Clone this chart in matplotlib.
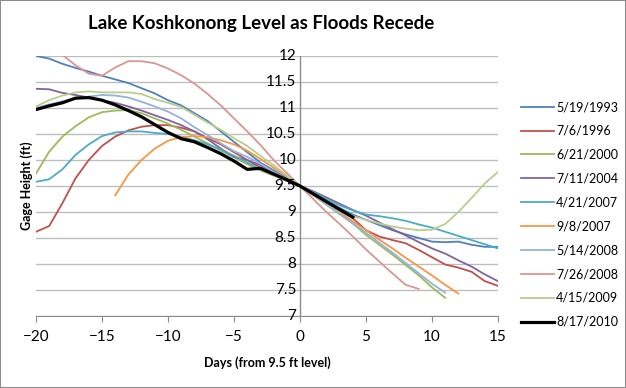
import numpy as np
import matplotlib
matplotlib.use("Agg")
import matplotlib.pyplot as plt
from matplotlib.patches import Rectangle

plt.rcParams['font.family'] = ['Lato', 'DejaVu Sans']

# --- data (days from the 9.5 ft level, gage height in ft) ---
labels = ['5/19/1993', '7/6/1996', '6/21/2000', '7/11/2004', '4/21/2007',
          '9/8/2007', '5/14/2008', '7/26/2008', '4/15/2009', '8/17/2010']

h1993 = [12.0, 11.95, 11.85, 11.77, 11.7, 11.62, 11.55, 11.48, 11.38, 11.28,
         11.15, 11.05, 10.9, 10.75, 10.55, 10.35, 10.15, 9.95, 9.8, 9.65,
         9.5, 9.37, 9.22, 9.08, 8.95, 8.85, 8.75, 8.65, 8.57, 8.5,
         8.43, 8.42, 8.43, 8.37, 8.33, 8.33]
h1996 = [8.62, 8.73, 9.17, 9.65, 10.0, 10.27, 10.45, 10.57, 10.64, 10.67,
         10.67, 10.62, 10.55, 10.42, 10.3, 10.15, 10.0, 9.85, 9.72, 9.6,
         9.5, 9.35, 9.2, 9.05, 8.88, 8.65, 8.53, 8.46, 8.4, 8.27,
         8.13, 7.99, 7.93, 7.85, 7.67, 7.58]
h2000 = [9.74, 10.16, 10.45, 10.65, 10.82, 10.92, 10.95, 10.96, 10.9, 10.8,
         10.7, 10.58, 10.45, 10.32, 10.18, 10.05, 9.92, 9.8, 9.7, 9.6,
         9.5, 9.32, 9.14, 8.96, 8.78, 8.56, 8.37, 8.18, 7.98, 7.78,
         7.55, 7.35]
h2004 = [11.37, 11.36, 11.29, 11.25, 11.2, 11.15, 11.1, 11.03, 10.95, 10.86,
         10.77, 10.67, 10.55, 10.4, 10.22, 10.06, 10.0, 9.9, 9.75, 9.62,
         9.5, 9.4, 9.28, 9.16, 9.04, 8.93, 8.8, 8.67, 8.55, 8.42,
         8.3, 8.2, 8.07, 7.95, 7.8, 7.67]
h2007a = [9.58, 9.63, 9.82, 10.1, 10.3, 10.46, 10.53, 10.55, 10.55, 10.52,
          10.5, 10.45, 10.38, 10.3, 10.2, 10.08, 9.95, 9.83, 9.72, 9.6,
          9.5, 9.38, 9.25, 9.13, 9.03, 8.95, 8.92, 8.88, 8.83, 8.76,
          8.7, 8.62, 8.54, 8.46, 8.38, 8.3]
h2007b = [9.32, 9.72, 10.0, 10.22, 10.37, 10.44, 10.46, 10.44, 10.38, 10.3,
          10.18, 10.02, 9.85, 9.68, 9.5, 9.35, 9.18, 9.0, 8.82, 8.65,
          8.47, 8.3, 8.12, 7.95, 7.78, 7.6, 7.43]
h2008a = [11.0, 11.07, 11.13, 11.18, 11.22, 11.25, 11.24, 11.2, 11.12, 11.03,
          10.93, 10.8, 10.63, 10.48, 10.32, 10.17, 10.06, 9.93, 9.77, 9.63,
          9.5, 9.33, 9.15, 8.97, 8.78, 8.6, 8.41, 8.22, 8.02, 7.82,
          7.62, 7.45]
h2008b = [12.4, 12.2, 12.02, 11.82, 11.66, 11.62, 11.78, 11.9, 11.9, 11.86,
          11.76, 11.63, 11.47, 11.27, 11.05, 10.8, 10.55, 10.29, 10.0, 9.75,
          9.5, 9.25, 9.0, 8.77, 8.53, 8.28, 8.05, 7.82, 7.6, 7.52]
h2009 = [11.03, 11.15, 11.24, 11.3, 11.32, 11.3, 11.3, 11.3, 11.27, 11.17,
         11.1, 11.02, 10.87, 10.72, 10.58, 10.42, 10.27, 10.08, 9.9, 9.7,
         9.5, 9.35, 9.2, 9.05, 8.92, 8.85, 8.78, 8.72, 8.68, 8.65,
         8.66, 8.77, 9.0, 9.27, 9.55, 9.77]
h2010 = [10.97, 11.04, 11.1, 11.19, 11.2, 11.15, 11.06, 10.95, 10.83, 10.68,
         10.53, 10.41, 10.35, 10.24, 10.12, 9.98, 9.82, 9.84, 9.73, 9.62,
         9.5, 9.35, 9.2, 9.05, 8.9]

series = [h1993, h1996, h2000, h2004, h2007a, h2007b, h2008a, h2008b, h2009, h2010]
starts = [-20, -20, -20, -20, -20, -14, -20, -20, -20, -20]
colors = ['#4F81BD', '#C0504D', '#9BBB59', '#8064A2', '#4BACC6',
          '#F79646', '#93B3DE', '#D99694', '#B9CD8C', '#000000']

x_ticks = [-20, -15, -10, -5, 0, 5, 10, 15]
y_ticks = [7, 7.5, 8, 8.5, 9, 9.5, 10, 10.5, 11, 11.5, 12]
y_ticklabels = ['7', '7.5', '8', '8.5', '9', '9.5', '10', '10.5', '11', '11.5', '12']

fig = plt.figure(figsize=(6.26, 3.88), dpi=100)
ax = fig.add_axes([36 / 626, 1 - 316 / 388, 462 / 626, 260 / 388])

for vals, s, c, lab in zip(series, starts, colors, labels):
    x = np.arange(s, s + len(vals))
    black = c == '#000000'
    ax.plot(x, vals, color=c, lw=2.3 if black else 1.3, label=lab,
            zorder=3 if black else 2, solid_joinstyle='round')

ax.set_xlim(-20, 15)
ax.set_ylim(7, 12)
ax.set_xticks(x_ticks)
ax.set_yticks(y_ticks)
ax.yaxis.grid(True, color='#BDBDBD', lw=1.0)
ax.set_axisbelow(True)

for side in ['top', 'right', 'left']:
    ax.spines[side].set_visible(False)
ax.spines['bottom'].set_color('#8C8C8C')

# y axis sits at x = 0, like the spreadsheet chart
ax.axvline(0, color='#8C8C8C', lw=1.0, zorder=1)
ax.tick_params(axis='x', direction='out', length=4, color='#8C8C8C', labelsize=11, pad=6)
ax.tick_params(axis='y', length=0, labelleft=False)
for yv, lab in zip(y_ticks, y_ticklabels):
    ax.text(-0.3, yv, lab, ha='right', va='center', fontsize=11, zorder=4)

fig.text(27 / 626, 1 - 186 / 388, 'Gage Height (ft)', rotation=90, ha='center',
         va='center', fontsize=9, fontweight='bold')
fig.text(267 / 626, 1 - 363 / 388, 'Days (from 9.5 ft level)', ha='center',
         va='center', fontsize=9, fontweight='bold')
fig.text(261 / 626, 1 - 24 / 388, 'Lake Koshkonong Level as Floods Recede',
         ha='center', va='center', fontsize=13.5, fontweight='bold')

fig.legend(loc='upper left', bbox_to_anchor=(516 / 626, 1 - 96 / 388), frameon=False,
           fontsize=9, handlelength=2.6, handletextpad=0.2, labelspacing=0.95,
           borderaxespad=0)

fig.patches.append(Rectangle((0, 0), 1, 1, transform=fig.transFigure, fill=False,
                             edgecolor='#8C8C8C', lw=1.5))

fig.savefig('out.png', dpi=100)
